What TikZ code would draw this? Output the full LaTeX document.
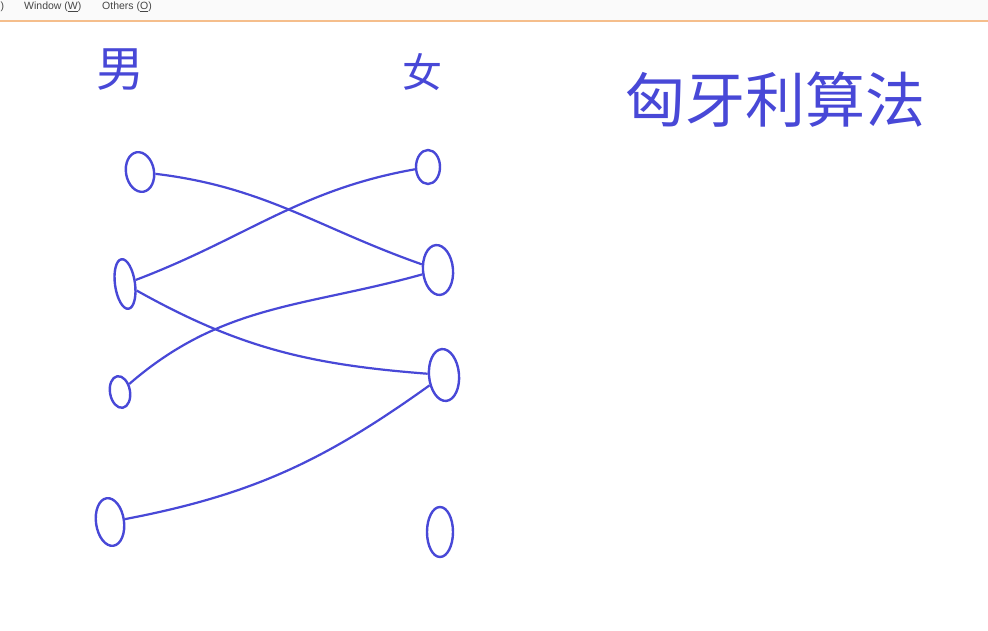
\documentclass[tikz,border=0pt]{standalone}
\usepackage{fontspec}
\setmainfont{Liberation Sans}
\newfontfamily\cjk{Noto Sans CJK SC}
\usetikzlibrary{shapes.geometric}
\definecolor{ink}{RGB}{72,72,215}
\definecolor{menuline}{RGB}{245,190,140}
\definecolor{menutext}{RGB}{70,70,70}
\tikzset{
  vtx/.style={ellipse, draw=ink, line width=2.4pt, inner sep=0pt},
  edge/.style={draw=ink, line width=2.2pt},
  hand/.style={text=ink, font=\cjk\fontsize{#1}{#1}\selectfont, inner sep=0pt},
  menu/.style={text=menutext, font=\fontsize{10.5}{12}\selectfont, inner sep=0pt, anchor=west}
}
\begin{document}
\begin{tikzpicture}[x=1pt,y=-1pt]
\useasboundingbox (0,0) rectangle (988,631);
\fill[white] (0,0) rectangle (988,631);
% menu bar
\fill[gray!4] (0,0) rectangle (988,20);
\draw[menuline, line width=1.5pt] (0,21) -- (988,21);
\node[menu] (m0) at (0.5,7) {)};
\node[menu] (m1) at (24,7) {Window (\underline{W})};
\node[menu] (m2) at (102,7) {Others (\underline{O})};
% labels
\node[hand=48] (nan) at (120,70) {男};
\node[hand=40] (nv) at (422,72) {女};
\node[hand=60] (title) at (775,100) {匈牙利算法};
% left vertices
\node[vtx, minimum width=28pt, minimum height=40pt, rotate=10] (L1) at (140,172) {};
\node[vtx, minimum width=20pt, minimum height=50pt, rotate=8] (L2) at (125,284) {};
\node[vtx, minimum width=20pt, minimum height=32pt, rotate=10] (L3) at (120,392) {};
\node[vtx, minimum width=28pt, minimum height=48pt, rotate=8] (L4) at (110,522) {};
% right vertices
\node[vtx, minimum width=24pt, minimum height=34pt] (R1) at (428,167) {};
\node[vtx, minimum width=30pt, minimum height=50pt, rotate=5] (R2) at (438,270) {};
\node[vtx, minimum width=30pt, minimum height=52pt, rotate=5] (R3) at (444,375) {};
\node[vtx, minimum width=26pt, minimum height=50pt] (R4) at (440,532) {};
% edges
\draw[edge] (L1) to[out=-8,in=160] (R2);
\draw[edge] (L2) to[out=20,in=190] (R1);
\draw[edge] (L2) to[out=-30,in=175] (R3);
\draw[edge] (L3) to[out=40,in=195] (R2);
\draw[edge] (L4) to[out=10,in=215] (R3);
\end{tikzpicture}
\end{document}
